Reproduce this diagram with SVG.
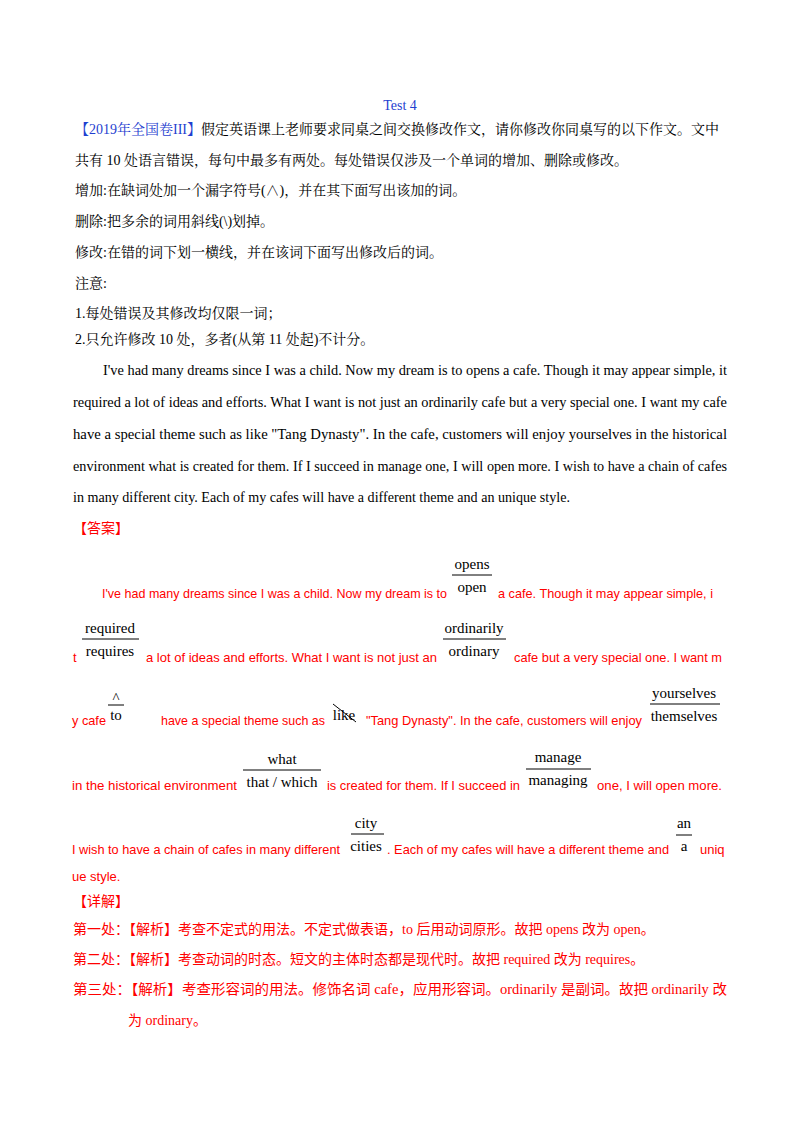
<svg xmlns="http://www.w3.org/2000/svg" width="800" height="1132" viewBox="0 0 800 1132">
<style>
.b{font-family:"Liberation Serif","Noto Serif CJK SC","Noto Sans CJK SC",serif;font-size:14px;fill:#000}
.bl{fill:#1f3fd0}
.r{font-family:"Liberation Sans","Noto Sans CJK SC",sans-serif;font-size:13px;fill:#ff0000}
.rc{font-family:"Liberation Serif","Noto Sans CJK SC",serif;font-size:14px;fill:#ff0000}
.w{font-family:"Liberation Serif",serif;font-size:15px;fill:#000;text-anchor:middle}
.ln{stroke:#000;stroke-width:1}
</style>
<rect width="800" height="1132" fill="#fff"/>
<text x="400" y="110" class="b bl" text-anchor="middle">Test  4</text>
<text x="75" y="134" class="b"><tspan class="bl">【2019年全国卷III】</tspan>假定英语课上老师要求同桌之间交换修改作文，请你修改你同桌写的以下作文。文中</text>
<text x="75" y="165" class="b">共有 10 处语言错误，每句中最多有两处。每处错误仅涉及一个单词的增加、删除或修改。</text>
<text x="75" y="195" class="b">增加:在缺词处加一个漏字符号(∧)，并在其下面写出该加的词。</text>
<text x="75" y="226" class="b">删除:把多余的词用斜线(\)划掉。</text>
<text x="75" y="257" class="b">修改:在错的词下划一横线，并在该词下面写出修改后的词。</text>
<text x="75" y="288" class="b">注意:</text>
<text x="75" y="318" class="b">1.每处错误及其修改均仅限一词；</text>
<text x="75" y="344" class="b">2.只允许修改 10 处，多者(从第 11 处起)不计分。</text>
<g class="b">
<text x="103" y="375" textLength="624" lengthAdjust="spacingAndGlyphs">I've had many dreams since I was a child. Now my dream is to opens a cafe. Though it may appear simple, it</text>
<text x="73" y="407" textLength="654" lengthAdjust="spacingAndGlyphs">required a lot of ideas and efforts. What I want is not just an ordinarily cafe but a very special one. I want my cafe</text>
<text x="73" y="439" textLength="654" lengthAdjust="spacingAndGlyphs">have a special theme such as like "Tang Dynasty". In the cafe, customers will enjoy yourselves in the historical</text>
<text x="73" y="471" textLength="654" lengthAdjust="spacingAndGlyphs">environment what is created for them. If I succeed in manage one, I will open more. I wish to have a chain of cafes</text>
<text x="73" y="502" textLength="497" lengthAdjust="spacingAndGlyphs">in many different city. Each of my cafes will have a different theme and an unique style.</text>
</g>
<text x="73" y="533" class="rc">【答案】</text>
<g class="r">
<text x="102" y="598" textLength="345" lengthAdjust="spacingAndGlyphs">I've had many dreams since I was a child. Now my dream is to</text>
<text x="498" y="598" textLength="215" lengthAdjust="spacingAndGlyphs">a cafe. Though it may appear simple, i</text>
<text x="73" y="662">t</text>
<text x="146" y="662" textLength="291" lengthAdjust="spacingAndGlyphs">a lot of ideas and efforts. What I want is not just an</text>
<text x="514" y="662" textLength="208" lengthAdjust="spacingAndGlyphs">cafe but a very special one. I want m</text>
<text x="72" y="725" textLength="34" lengthAdjust="spacingAndGlyphs">y cafe</text>
<text x="161" y="725" textLength="164" lengthAdjust="spacingAndGlyphs">have a special theme such as</text>
<text x="366" y="725" textLength="276" lengthAdjust="spacingAndGlyphs">"Tang Dynasty". In the cafe, customers will enjoy</text>
<text x="72" y="790" textLength="165" lengthAdjust="spacingAndGlyphs">in the historical environment</text>
<text x="327" y="790" textLength="193" lengthAdjust="spacingAndGlyphs">is created for them. If I succeed in</text>
<text x="597" y="790" textLength="125" lengthAdjust="spacingAndGlyphs">one, I will open more.</text>
<text x="72" y="854" textLength="268" lengthAdjust="spacingAndGlyphs">I wish to have a chain of cafes in many different</text>
<text x="387" y="854" textLength="282" lengthAdjust="spacingAndGlyphs">. Each of my cafes will have a different theme and</text>
<text x="700" y="854">uniq</text>
<text x="72" y="881">ue style.</text>
</g>
<g class="w">
<text x="472" y="569">opens</text><line class="ln" x1="452" y1="575" x2="492" y2="575"/><text x="472" y="592">open</text>
<text x="110" y="633">required</text><line class="ln" x1="82" y1="639" x2="139" y2="639"/><text x="110" y="656">requires</text>
<text x="474" y="633">ordinarily</text><line class="ln" x1="443" y1="639" x2="506" y2="639"/><text x="474" y="656">ordinary</text>
<text x="116" y="703">^</text><line class="ln" x1="108" y1="705" x2="124" y2="705"/><text x="116" y="720">to</text>
<text x="344" y="720">like</text><line class="ln" x1="333" y1="704" x2="356" y2="722"/>
<text x="684" y="698">yourselves</text><line class="ln" x1="650" y1="704" x2="720" y2="704"/><text x="684" y="721">themselves</text>
<text x="282" y="764">what</text><line class="ln" x1="243" y1="770" x2="321" y2="770"/><text x="282" y="787">that / which</text>
<text x="558" y="762">manage</text><line class="ln" x1="526" y1="769" x2="591" y2="769"/><text x="558" y="785">managing</text>
<text x="366" y="828">city</text><line class="ln" x1="351" y1="834" x2="384" y2="834"/><text x="366" y="851">cities</text>
<text x="684" y="828">an</text><line class="ln" x1="676" y1="835" x2="692" y2="835"/><text x="684" y="851">a</text>
</g>
<text x="73" y="906" class="rc">【详解】</text>
<g class="rc">
<text x="73" y="934">第一处：【解析】考查不定式的用法。不定式做表语，to 后用动词原形。故把  opens 改为  open。</text>
<text x="73" y="964">第二处：【解析】考查动词的时态。短文的主体时态都是现代时。故把  required 改为  requires。</text>
<text x="73" y="994" textLength="654" lengthAdjust="spacingAndGlyphs">第三处：【解析】考查形容词的用法。修饰名词 cafe，应用形容词。ordinarily  是副词。故把  ordinarily 改</text>
<text x="128" y="1025">为  ordinary。</text>
</g>
</svg>
